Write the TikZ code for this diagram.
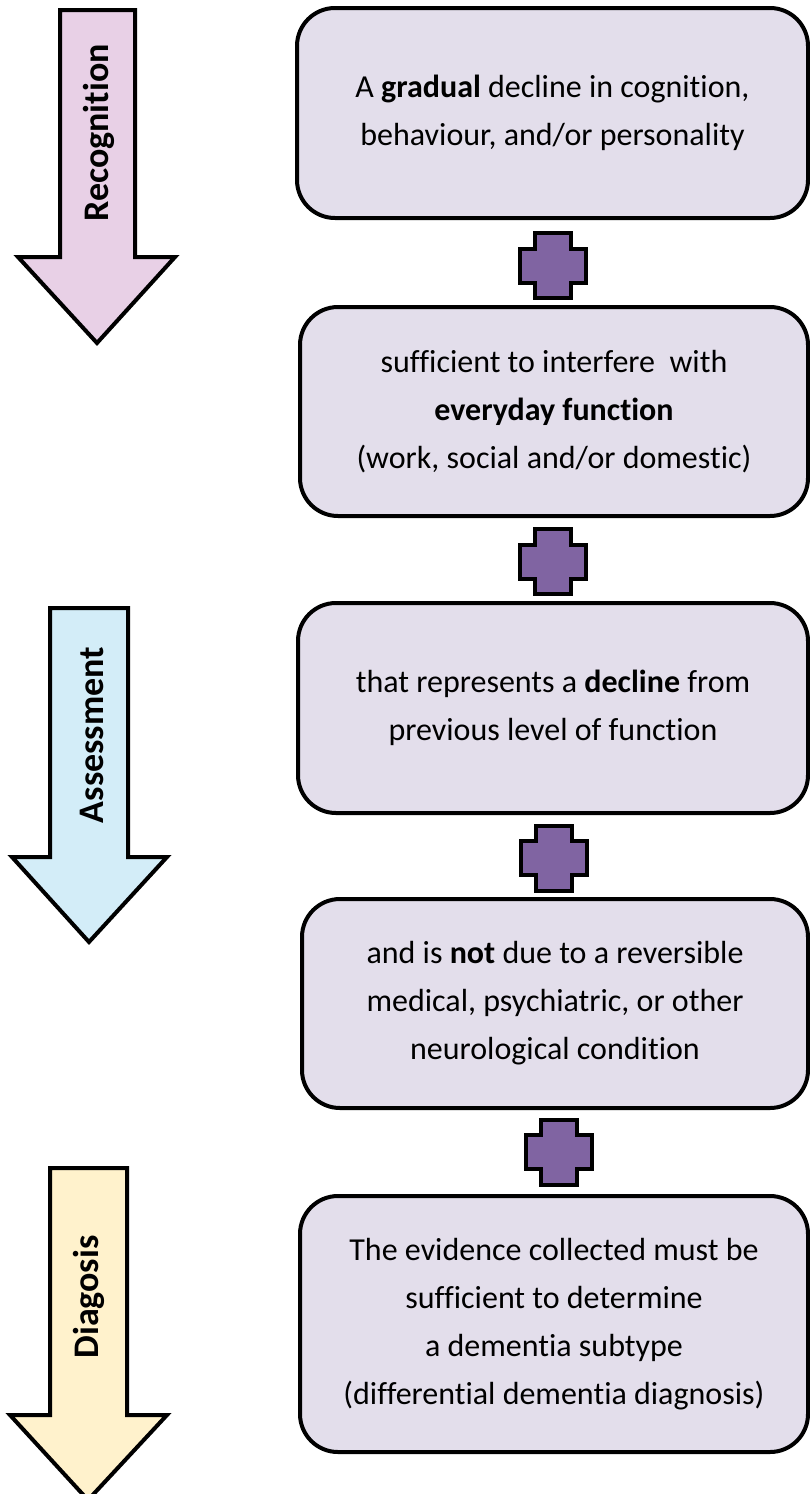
\documentclass[tikz,border=0pt]{standalone}
\usepackage{fontspec}
\setmainfont[Ligatures={NoCommon,NoRare,NoContextual}]{Carlito}
\definecolor{boxfill}{HTML}{E3DEEB}
\definecolor{plusfill}{HTML}{8064A2}
\definecolor{recfill}{HTML}{E8D0E6}
\definecolor{assfill}{HTML}{D3EDF8}
\definecolor{diafill}{HTML}{FFF2CC}
\begin{document}
\begin{tikzpicture}[x=1pt,y=-1pt,
  stepbox/.style={draw=black, line width=4pt, fill=boxfill, rounded corners=38pt,
    align=center, inner sep=0pt, outer sep=0pt,
    font=\fontsize{32}{48}\selectfont},
  bigarrow/.style={draw=black, line width=4pt, line join=miter},
  arrowlabel/.style={rotate=90, font=\fontsize{36}{40}\selectfont\bfseries, inner sep=0pt},
  plusshape/.style={draw=black, line width=4pt, fill=plusfill, line join=miter}
]
\useasboundingbox (0,0) rectangle (810,1494);

% phase arrows
\draw[bigarrow, fill=recfill] (60,10) -- (135,10) -- (135,257) -- (175,257) -- (97,343) -- (18,257) -- (60,257) -- cycle;
\node[arrowlabel] (rec) at (99,133) {Recognition};

\draw[bigarrow, fill=assfill] (50,608) -- (128,608) -- (128,857) -- (167,857) -- (89,942) -- (12,857) -- (50,857) -- cycle;
\node[arrowlabel] (ass) at (92,735) {Assessment};

\draw[bigarrow, fill=diafill] (50,1168) -- (127,1168) -- (127,1415) -- (167,1415) -- (88,1500) -- (10,1415) -- (50,1415) -- cycle;
\node[arrowlabel] (dia) at (89,1297) {Diagosis};

% boxes
\node[stepbox, minimum width=511pt, minimum height=210pt] (b1) at (552.5,113)
  {A \textbf{gradual} decline in cognition,\\ behaviour, and/or personality};
\node[stepbox, minimum width=508pt, minimum height=209pt] (b2) at (554,411.5)
  {sufficient to interfere\ \ with\\ \textbf{everyday function}\\ (work, social and/or domestic)};
\node[stepbox, minimum width=510pt, minimum height=210pt] (b3) at (553,708)
  {that represents a \textbf{decline} from\\ previous level of function};
\node[stepbox, minimum width=506pt, minimum height=209pt] (b4) at (555,1003.5)
  {and is \textbf{not} due to a reversible\\ medical, psychiatric, or other\\ neurological condition};
\node[stepbox, minimum width=508pt, minimum height=256pt] (b5) at (554,1324)
  {The evidence collected must be\\ sufficient to determine\\ a dementia subtype\\ (differential dementia diagnosis)};

% plus signs
\foreach \n/\cx/\cy in {p1/553/265.5, p2/553/561.5, p3/554/858, p4/559/1152}{
  \coordinate (\n) at (\cx,\cy);
  \draw[plusshape] ([shift={(-18,-32.5)}]\n) -- ([shift={(18,-32.5)}]\n) -- ([shift={(18,-17)}]\n)
    -- ([shift={(33,-17)}]\n) -- ([shift={(33,17)}]\n) -- ([shift={(18,17)}]\n)
    -- ([shift={(18,32.5)}]\n) -- ([shift={(-18,32.5)}]\n) -- ([shift={(-18,17)}]\n)
    -- ([shift={(-33,17)}]\n) -- ([shift={(-33,-17)}]\n) -- ([shift={(-18,-17)}]\n) -- cycle;
}
\end{tikzpicture}
\end{document}
